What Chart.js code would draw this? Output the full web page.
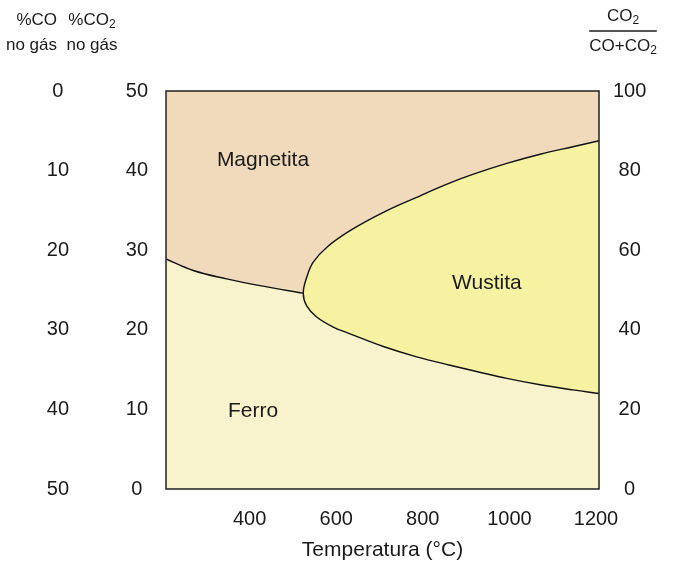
<!DOCTYPE html>
<html>
<head>
<meta charset="utf-8">
<script src="https://cdn.jsdelivr.net/npm/chart.js@4"></script>
<style>
  html, body { margin: 0; padding: 0; background: #ffffff; }
  #wrap { width: 685px; height: 565px; position: relative; }
</style>
</head>
<body>
<div id="wrap"><canvas id="c"></canvas></div>
<script>
const FONT = '"Liberation Sans", Arial, Helvetica, sans-serif';
const INK = '#1a1a1a';
const LINE = '#111111';

// Temperature axis (°C)
const tempTicks = [400, 600, 800, 1000, 1200];
// Right axis: CO2/(CO+CO2) in %; left axes: %CO2 and %CO in the gas
const ratioTicks = [0, 20, 40, 60, 80, 100];
const co2Ticks = [0, 10, 20, 30, 40, 50];
const coTicks = [0, 10, 20, 30, 40, 50];

// Ferro / Magnetita boundary, ending at the triple point
const fmTemp  = [200, 263, 340, 417, 517];
const fmRatio = [57.8, 54.9, 52.8, 51.1, 49.2];

// Wustita field, both branches from the triple point outward
const upperTemp  = [525, 540, 571, 625, 702, 779, 856, 910, 987, 1064, 1140, 1200];
const upperRatio = [53.2, 57.0, 60.7, 64.9, 69.5, 73.3, 76.9, 79.1, 81.8, 84.1, 86.0, 87.5];
const lowerTemp  = [525, 548, 586, 625, 702, 779, 856, 910, 987, 1064, 1140, 1200];
const lowerRatio = [46.0, 43.2, 40.7, 39.0, 35.8, 33.2, 31.1, 29.7, 27.8, 26.2, 24.9, 24.0];

// Phase names and the (T, ratio) spot where each is written
const phaseNames = ['Magnetita', 'Wustita', 'Ferro'];
const phaseTemp  = [424, 941, 401];
const phaseRatio = [82.5, 51.6, 19.5];

const COLOR_MAGNETITA = '#F0DABB';
const COLOR_WUSTITA   = '#F7F1A2';
const COLOR_FERRO     = '#F8F2CD';

const pts = (xs, ys) => xs.map((x, i) => ({ x: x, y: ys[i] }));

const fmPts    = pts(fmTemp, fmRatio);
const upperPts = pts(upperTemp, upperRatio);
const lowerPts = pts(lowerTemp, lowerRatio);
const triple   = fmPts[fmPts.length - 1];

// Magnetita: everything above the Fe/Fe3O4 line and the upper Wustita branch
const magnetitaPts = fmPts.concat(upperPts);
// Ferro: everything below the Fe/Fe3O4 line and the lower Wustita branch
const ferroPts = fmPts.concat(lowerPts);
// Wustita: closed lens, upper branch back to the triple point, then lower branch
const wustitaPts = upperPts.slice().reverse().concat([triple], lowerPts);

const tickFont = { family: FONT, size: 20, lineHeight: 1.2 };
const labelFont = { family: FONT, size: 21, lineHeight: 1.2 };

function fixedTicks(values) {
  return function (scale) { scale.ticks = values.map(v => ({ value: v })); };
}
const plainNumber = v => String(v);

// Region names inside the plot
const phaseLabels = {
  id: 'phaseLabels',
  afterDatasetsDraw(chart) {
    const { ctx, scales } = chart;
    ctx.save();
    ctx.font = '21px ' + FONT;
    ctx.fillStyle = INK;
    ctx.textAlign = 'center';
    ctx.textBaseline = 'middle';
    phaseNames.forEach((name, i) => {
      ctx.fillText(name, scales.x.getPixelForValue(phaseTemp[i]), scales.y.getPixelForValue(phaseRatio[i]));
    });
    ctx.restore();
  }
};

// Frame around the plot area
const frame = {
  id: 'frame',
  afterDatasetsDraw(chart) {
    const { ctx, chartArea: a } = chart;
    ctx.save();
    ctx.strokeStyle = '#222222';
    ctx.lineWidth = 1.5;
    ctx.strokeRect(a.left, a.top, a.right - a.left, a.bottom - a.top);
    ctx.restore();
  }
};

// Column headings above the three value axes (text runs with subscripts)
const HEAD = 17, SUB = 12;
function measureRuns(ctx, parts) {
  let w = 0;
  parts.forEach(p => {
    ctx.font = (p.sub ? SUB : HEAD) + 'px ' + FONT;
    p.w = ctx.measureText(p.t).width;
    w += p.w;
  });
  return w;
}
function drawRuns(ctx, parts, x0, cy, align) {
  const w = measureRuns(ctx, parts);
  let x = align === 'right' ? x0 - w : (align === 'center' ? x0 - w / 2 : x0);
  ctx.textAlign = 'left';
  ctx.textBaseline = 'middle';
  parts.forEach(p => {
    ctx.font = (p.sub ? SUB : HEAD) + 'px ' + FONT;
    ctx.fillText(p.t, x, cy + (p.sub ? 5 : 0));
    x += p.w;
  });
  return w;
}
const headings = {
  id: 'headings',
  afterDraw(chart) {
    const ctx = chart.ctx;
    ctx.save();
    ctx.fillStyle = INK;
    drawRuns(ctx, [{ t: '%CO' }], 57, 20, 'right');
    drawRuns(ctx, [{ t: 'no gás' }], 57, 45, 'right');
    drawRuns(ctx, [{ t: '%CO' }, { t: '2', sub: true }], 92, 20, 'center');
    drawRuns(ctx, [{ t: 'no gás' }], 92, 45, 'center');
    const fx = 623;
    drawRuns(ctx, [{ t: 'CO' }, { t: '2', sub: true }], fx, 16, 'center');
    const w = drawRuns(ctx, [{ t: 'CO+CO' }, { t: '2', sub: true }], fx, 46, 'center');
    ctx.strokeStyle = INK;
    ctx.lineWidth = 1.3;
    ctx.beginPath();
    ctx.moveTo(fx - w / 2, 31);
    ctx.lineTo(fx + w / 2, 31);
    ctx.stroke();
    ctx.restore();
  }
};

const curve = { pointRadius: 0, tension: 0.4, yAxisID: 'y' };

new Chart(document.getElementById('c'), {
  type: 'line',
  data: {
    datasets: [
      Object.assign({
        label: 'Ferro/Magnetita',
        data: fmPts,
        order: 0,
        fill: false,
        borderColor: LINE,
        borderWidth: 1.4
      }, curve),
      Object.assign({
        label: 'Wustita',
        data: wustitaPts,
        order: 1,
        fill: 'shape',
        backgroundColor: COLOR_WUSTITA,
        borderColor: LINE,
        borderWidth: 1.4
      }, curve),
      Object.assign({
        label: 'Ferro',
        data: ferroPts,
        order: 2,
        fill: 'start',
        backgroundColor: COLOR_FERRO,
        borderColor: 'rgba(0,0,0,0)',
        borderWidth: 0
      }, curve),
      Object.assign({
        label: 'Magnetita',
        data: magnetitaPts,
        order: 3,
        fill: 'end',
        backgroundColor: COLOR_MAGNETITA,
        borderColor: 'rgba(0,0,0,0)',
        borderWidth: 0
      }, curve)
    ]
  },
  options: {
    responsive: true,
    maintainAspectRatio: false,
    animation: false,
    events: [],
    layout: { padding: { top: 91, left: 0, right: 0, bottom: 0 } },
    plugins: { legend: { display: false }, tooltip: { enabled: false } },
    scales: {
      x: {
        type: 'linear',
        position: 'bottom',
        min: 200,
        max: 1200,
        grid: { display: false, drawTicks: false },
        border: { display: false },
        afterBuildTicks: fixedTicks(tempTicks),
        afterFit: s => { s.height = 76; },
        ticks: { font: tickFont, color: INK, padding: 18, maxRotation: 0, autoSkip: false, labelOffset: -3, callback: plainNumber },
        title: {
          display: true,
          text: 'Temperatura (°C)',
          font: labelFont,
          color: INK,
          padding: { top: 0, bottom: 2 }
        }
      },
      y: {
        type: 'linear',
        position: 'right',
        min: 0,
        max: 100,
        grid: { display: false, drawTicks: false },
        border: { display: false },
        afterBuildTicks: fixedTicks(ratioTicks),
        afterFit: s => { s.width = 86; },
        ticks: { font: tickFont, color: INK, padding: 14, crossAlign: 'center', callback: plainNumber }
      },
      yCO2: {
        type: 'linear',
        position: 'left',
        weight: 0,
        min: 0,
        max: 50,
        grid: { display: false, drawTicks: false },
        border: { display: false },
        afterBuildTicks: fixedTicks(co2Ticks),
        afterFit: s => { s.width = 68; },
        ticks: { font: tickFont, color: INK, padding: 18, crossAlign: 'center', callback: plainNumber }
      },
      yCO: {
        type: 'linear',
        position: 'left',
        weight: 1,
        reverse: true,
        min: 0,
        max: 50,
        grid: { display: false, drawTicks: false },
        border: { display: false },
        afterBuildTicks: fixedTicks(coTicks),
        afterFit: s => { s.width = 98; },
        ticks: { font: tickFont, color: INK, padding: 29, crossAlign: 'center', callback: plainNumber }
      }
    }
  },
  plugins: [phaseLabels, frame, headings]
});
</script>
</body>
</html>
